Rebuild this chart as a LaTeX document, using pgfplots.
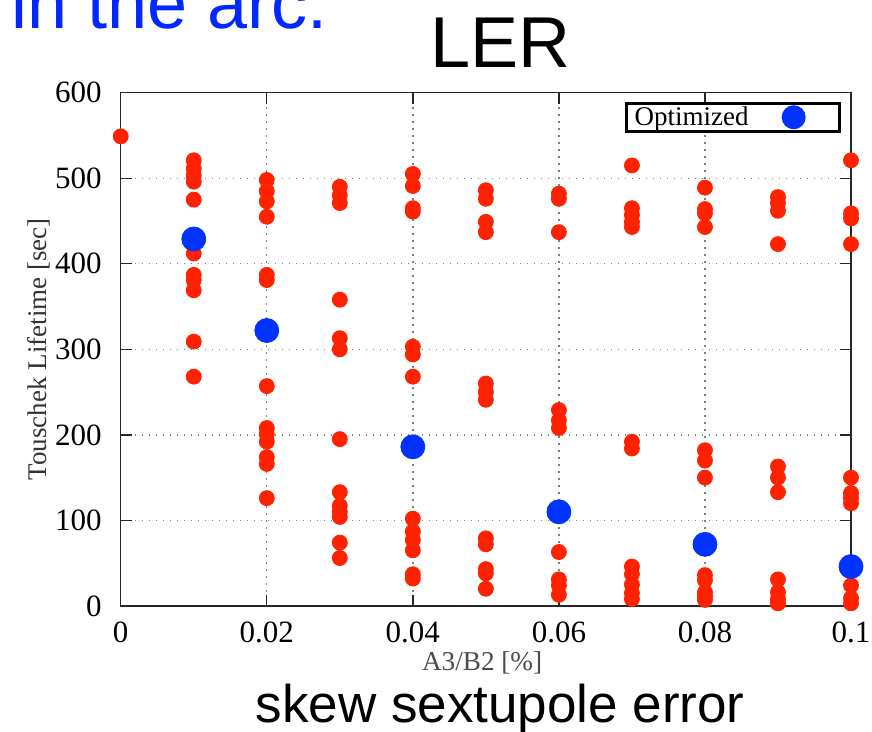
\documentclass[border=0pt]{standalone}
\usepackage{pgfplots}
\pgfplotsset{compat=1.18}
\usepackage{fontspec}
\setmainfont{Liberation Serif}
\newfontfamily\sansf{Liberation Sans}
\definecolor{ptred}{RGB}{255,34,0}
\definecolor{ptblue}{RGB}{0,51,255}
\definecolor{txtblue}{RGB}{0,40,255}
\begin{document}
\begin{tikzpicture}
\useasboundingbox (-60.35pt,-62.65pt) rectangle (375.5pt,302.85pt);
\begin{axis}[
  scale only axis, width=365pt, height=256.5pt,
  xmin=0, xmax=0.1, ymin=0, ymax=600,
  xtick={0,0.02,0.04,0.06,0.08,0.1},
  xticklabels={0,0.02,0.04,0.06,0.08,0.1},
  ytick={0,100,200,300,400,500,600},
  tick align=inside, major tick length=5.5pt,
  axis line style={line width=0.7pt, black!85},
  every tick/.style={line width=0.7pt, black!85},
  grid=major,
  major grid style={gray, line width=0.7pt, dash pattern=on 0.7pt off 2.8pt},
  /pgf/number format/assume math mode=true,
  ticklabel style={font=\fontsize{15.5}{16}\selectfont, inner sep=0pt},
  xticklabel style={anchor=base, yshift=-18.5pt},
  yticklabel style={anchor=east, xshift=-9.35pt},
  xlabel={A3/B2 [\%]},
  xlabel style={at={(axis description cs:0.4949,0)}, anchor=base, yshift=-32.15pt,
    font=\fontsize{13.6}{14}\selectfont, text=black!70, inner sep=0pt},
  ylabel={Touschek Lifetime [sec]},
  ylabel style={at={(axis description cs:-0.101,0.5)}, anchor=base,
    font=\fontsize{13.5}{14}\selectfont, text=black!80, inner sep=0pt},
  clip=false,
  legend plot pos=right,
  legend cell align=left,
  legend style={at={(rel axis cs:1,1)}, anchor=north east, xshift=-5pt, yshift=-4.6pt,
    draw=black, line width=1.3pt, inner xsep=2.5pt, inner ysep=1pt,
    font=\fontsize{13.5}{14}\selectfont,
    nodes={inner xsep=1.5pt, inner ysep=0.5pt}},
]
\addplot[only marks, mark=*, mark size=3.75pt, color=ptred, forget plot] table {
x y
0 549
0.01 521
0.01 511
0.01 503
0.01 496
0.01 475
0.01 412
0.01 387
0.01 381
0.01 369
0.01 309
0.01 268
0.02 498
0.02 485
0.02 473
0.02 455
0.02 387
0.02 381
0.02 257
0.02 208
0.02 201
0.02 192
0.02 174
0.02 166
0.02 126
0.03 490
0.03 480
0.03 471
0.03 358
0.03 313
0.03 300
0.03 195
0.03 133
0.03 117
0.03 110
0.03 104
0.03 74
0.03 56
0.04 505
0.04 491
0.04 465
0.04 461
0.04 303
0.04 294
0.04 268
0.04 102
0.04 87
0.04 77
0.04 65
0.04 37
0.04 32
0.05 486
0.05 476
0.05 449
0.05 437
0.05 260
0.05 250
0.05 241
0.05 79
0.05 72
0.05 43
0.05 38
0.05 20
0.06 482
0.06 476
0.06 437
0.06 229
0.06 217
0.06 208
0.06 63
0.06 31
0.06 24
0.06 13
0.07 515
0.07 465
0.07 457
0.07 449
0.07 443
0.07 192
0.07 184
0.07 46
0.07 37
0.07 25
0.07 15
0.07 8
0.08 489
0.08 464
0.08 459
0.08 443
0.08 182
0.08 170
0.08 150
0.08 36
0.08 30
0.08 16
0.08 11
0.08 7
0.09 478
0.09 471
0.09 462
0.09 423
0.09 163
0.09 150
0.09 133
0.09 31
0.09 16
0.09 8
0.09 3
0.1 521
0.1 459
0.1 453
0.1 423
0.1 150
0.1 132
0.1 126
0.1 120
0.1 24
0.1 9
0.1 3
};
\addplot[only marks, mark=*, mark size=6pt, color=ptblue,
  legend image code/.code={\path[draw=none, fill=none] (0pt,-5pt) rectangle (41.5pt,5pt);
    \fill[ptblue, draw=none] (21pt,0pt) circle (6pt);}] table {
x y
0.01 429
0.02 322
0.04 186
0.06 110
0.08 72
0.1 46
};
\addlegendentry{Optimized}
\end{axis}
\node[font=\sansf\fontsize{36}{36}\selectfont, text=txtblue, anchor=base east, inner sep=0pt] at (103.65pt,288.35pt) {in the arc.};
\node[font=\sansf\fontsize{36}{36}\selectfont, anchor=base, inner sep=0pt] at (189.9pt,269.35pt) {LER};
\node[font=\sansf\fontsize{26.5}{27}\selectfont, anchor=base, inner sep=0pt] at (189.65pt,-58.15pt) {skew sextupole error};
\end{tikzpicture}
\end{document}
